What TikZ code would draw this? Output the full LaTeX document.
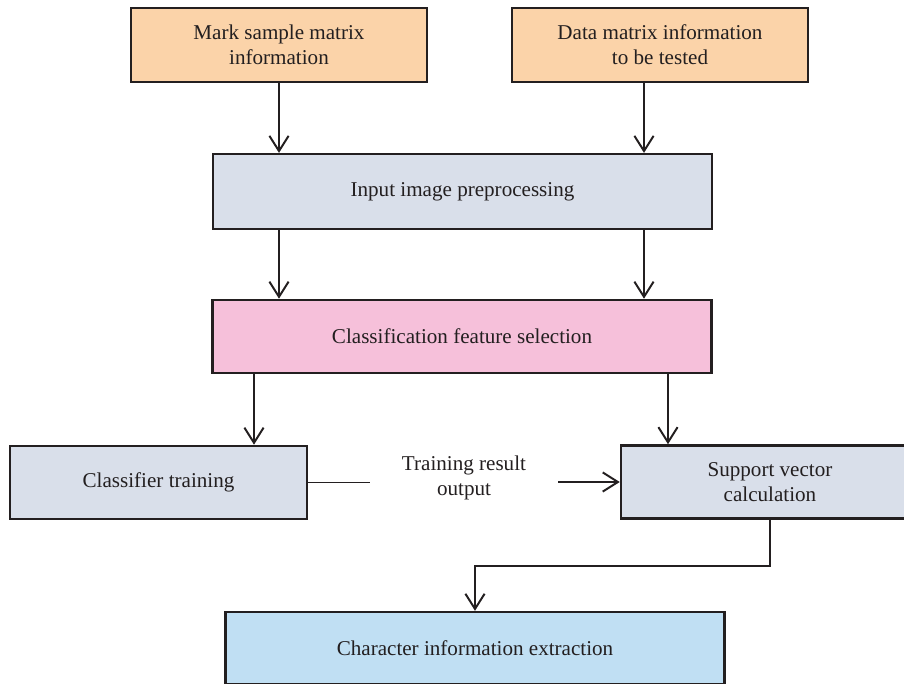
\documentclass[tikz,border=0pt]{standalone}
\usepackage{fontspec}
\setmainfont{Liberation Serif}
\usetikzlibrary{positioning,arrows.meta,calc}
\definecolor{peach}{HTML}{FBD3A9}
\definecolor{greyblue}{HTML}{D9DFEA}
\definecolor{pinkbox}{HTML}{F6C0DA}
\definecolor{skyblue}{HTML}{C0DFF3}
\definecolor{ink}{HTML}{231F20}
\tikzset{
  box/.style={draw=ink, line width=1.7pt, text=ink, font=\fontsize{15}{18}\selectfont, align=center, inner sep=0pt},
  src/.style={box, fill=peach, minimum width=7.4cm, minimum height=1.85cm},
  stage/.style={box, fill=greyblue, minimum width=7.43cm, minimum height=1.83cm},
  wide/.style={minimum width=12.48cm},
  sel/.style={box, fill=pinkbox, wide, minimum height=1.83cm},
  res/.style={box, fill=skyblue, wide, minimum height=1.8cm},
  lbl/.style={text=ink, font=\fontsize{15}{18}\selectfont, align=center, inner sep=0pt, inner xsep=0.8cm},
  ln/.style={draw=ink, line width=1.4pt},
  arr/.style={ln, -{Straight Barb[length=3.8mm, width=4.8mm]}},
}
\begin{document}
\begin{tikzpicture}[x=0.025cm, y=-0.025cm]
\useasboundingbox (0,0) rectangle (904,684);
\clip (0,0) rectangle (904,684);
% inputs
\node[src] (mark) at (279,45) {Mark sample matrix\\information};
\node[src] (data) at (660,45) {Data matrix information\\to be tested};
% processing chain
\node[stage, wide, minimum height=1.87cm] (prep) at (462.5,191.5) {Input image preprocessing};
\node[sel] (feat) at (462,336.5) {Classification feature selection};
\node[stage] (train) at (158.5,482.5) {Classifier training};
\node[stage, minimum width=7.45cm] (svc) at (770,482) {Support vector\\calculation};
\node[lbl] (out) at (464,478) {Training result\\output};
\node[res] (char) at (475,648) {Character information extraction};
% arrow columns
\coordinate (rx) at (644,0);
\coordinate (lx) at (254,0);
\coordinate (fx) at (668,0);
\draw[arr] (mark) -- (mark |- prep.north);
\draw[arr] (rx |- data.south) -- (rx |- prep.north);
\draw[arr] (mark |- prep.south) -- (mark |- feat.north);
\draw[arr] (rx |- prep.south) -- (rx |- feat.north);
\draw[arr] (lx |- feat.south) -- (lx |- train.north);
\draw[arr] (fx |- feat.south) -- (fx |- svc.north);
\draw[ln] (train.east) -- (train.east -| out.west);
\draw[arr] (svc.west -| out.east) -- (svc.west);
\draw[arr] (svc.south) -- ++(0,46) -| (char.north);
\end{tikzpicture}
\end{document}
